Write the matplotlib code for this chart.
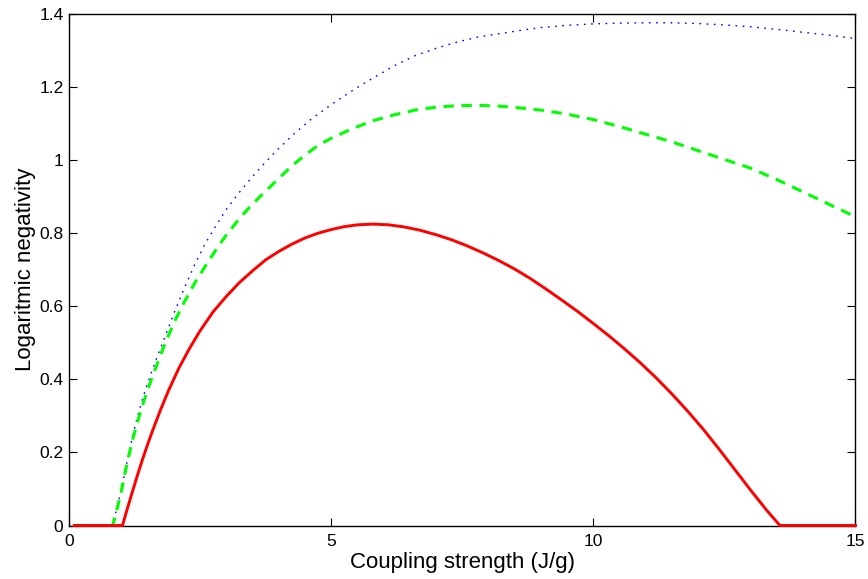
import matplotlib.pyplot as plt

plt.rcParams['font.family'] = ['Liberation Sans', 'DejaVu Sans']
plt.rcParams['lines.scale_dashes'] = False

# coupling strength J/g vs. logarithmic negativity, three cases
x_red = [0.1, 0.6, 1.02, 1.1, 1.2, 1.3, 1.4, 1.5, 1.6, 1.75, 1.9, 2.1, 2.3, 2.5, 2.75,
         3.0, 3.25, 3.5, 3.75, 4.0, 4.25, 4.5, 4.75, 5.0, 5.25, 5.5, 5.8, 6.1, 6.4,
         6.7, 7.0, 7.3, 7.6, 7.9, 8.2, 8.5, 8.8, 9.1, 9.4, 9.7, 10.0, 10.3, 10.6,
         10.9, 11.2, 11.5, 11.8, 12.1, 12.4, 12.7, 13.0, 13.3, 13.56, 14.0, 15.0]
y_red = [0.0, 0.0, 0.0, 0.04, 0.088, 0.135, 0.18, 0.222, 0.262, 0.318, 0.37, 0.432,
         0.485, 0.533, 0.585, 0.627, 0.665, 0.697, 0.727, 0.75, 0.77, 0.787, 0.8,
         0.81, 0.818, 0.823, 0.825, 0.823, 0.817, 0.808, 0.796, 0.782, 0.765, 0.746,
         0.725, 0.702, 0.676, 0.647, 0.617, 0.586, 0.553, 0.519, 0.483, 0.445, 0.404,
         0.36, 0.313, 0.263, 0.209, 0.153, 0.097, 0.043, 0.0, 0.0, 0.0]

x_green = [0.1, 0.5, 0.83, 0.9, 1.0, 1.1, 1.2, 1.3, 1.4, 1.5, 1.65, 1.8, 2.0, 2.2, 2.4,
           2.6, 2.8, 3.0, 3.25, 3.5, 3.75, 4.0, 4.25, 4.5, 4.75, 5.0, 5.4, 5.8, 6.2,
           6.6, 7.0, 7.4, 7.8, 8.2, 8.6, 9.0, 9.5, 10.0, 10.5, 11.0, 11.5, 12.0, 12.5,
           13.0, 13.5, 14.0, 14.5, 15.0]
y_green = [0.0, 0.0, 0.0, 0.035, 0.095, 0.165, 0.228, 0.28, 0.328, 0.372, 0.43, 0.487,
           0.555, 0.612, 0.664, 0.71, 0.754, 0.795, 0.84, 0.88, 0.915, 0.95, 0.984,
           1.014, 1.04, 1.06, 1.086, 1.108, 1.124, 1.137, 1.145, 1.149, 1.15, 1.148,
           1.143, 1.137, 1.126, 1.111, 1.092, 1.071, 1.05, 1.026, 1.002, 0.978, 0.947,
           0.913, 0.879, 0.845]

x_blue = [0.1, 0.5, 0.82, 0.9, 1.0, 1.1, 1.2, 1.3, 1.4, 1.5, 1.65, 1.8, 2.0, 2.2, 2.4,
          2.6, 2.8, 3.0, 3.25, 3.5, 3.75, 4.0, 4.3, 4.6, 5.0, 5.4, 5.8, 6.2, 6.6, 7.0,
          7.4, 7.8, 8.2, 8.6, 9.0, 9.5, 10.0, 10.5, 11.0, 11.5, 12.0, 12.5, 13.0,
          13.5, 14.0, 14.5, 15.0]
y_blue = [0.0, 0.0, 0.0, 0.04, 0.1, 0.17, 0.235, 0.295, 0.345, 0.39, 0.45, 0.505,
          0.58, 0.65, 0.715, 0.772, 0.82, 0.865, 0.912, 0.955, 0.995, 1.032, 1.073,
          1.11, 1.152, 1.19, 1.225, 1.258, 1.286, 1.306, 1.323, 1.337, 1.346, 1.355,
          1.363, 1.369, 1.373, 1.375, 1.376, 1.376, 1.374, 1.37, 1.365, 1.358, 1.35,
          1.342, 1.333]

fig = plt.figure(figsize=(8.68, 5.79), dpi=100)
ax = fig.add_axes([0.0795, 0.0924, 0.906, 0.8834])

ax.plot(x_blue, y_blue, color='blue', lw=1.0, dashes=(1.2, 4.0), clip_on=False)
ax.plot(x_green, y_green, color='#00ff00', lw=2.2, dashes=(7.5, 5.5), clip_on=False)
ax.plot(x_red, y_red, color='red', lw=2.1, clip_on=False, zorder=3)

ax.set_xlim(0, 15)
ax.set_ylim(0, 1.4)
ax.set_xticks([0, 5, 10, 15])
ax.set_xticklabels(['0', '5', '10', '15'])
ax.set_yticks([0, 0.2, 0.4, 0.6, 0.8, 1.0, 1.2, 1.4])
ax.set_yticklabels(['0', '0.2', '0.4', '0.6', '0.8', '1', '1.2', '1.4'])
ax.tick_params(direction='in', length=6, width=0.8, top=True, right=True,
               labelsize=12.5)
ax.tick_params(axis='x', pad=6)
ax.tick_params(axis='y', pad=4)
for s in ax.spines.values():
    s.set_linewidth(1.0)

ax.set_xlabel('Coupling strength (J/g)', fontsize=16, labelpad=2)
ax.set_ylabel('Logaritmic negativity', fontsize=16, labelpad=2)

fig.savefig('out.png', dpi=100)
